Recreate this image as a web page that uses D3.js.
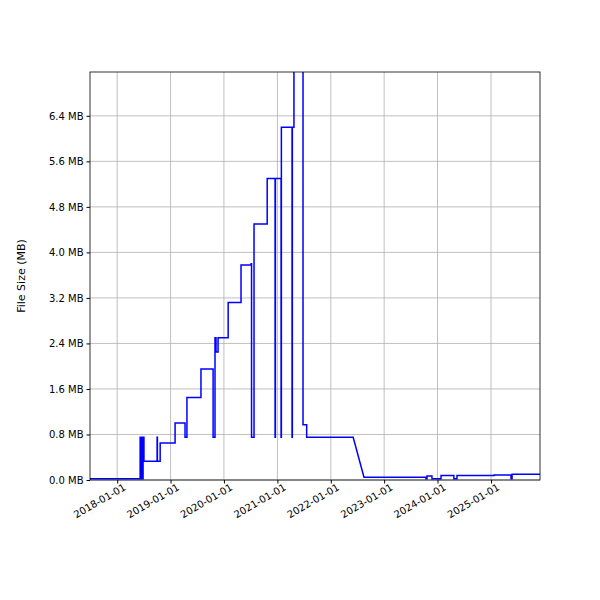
<!DOCTYPE html><html><head><script src="https://cdn.jsdelivr.net/npm/d3@7"></script>
<style>body{margin:0;background:#fff}text{font-family:"DejaVu Sans",sans-serif}</style></head><body><svg id="c" width="600" height="600"></svg>
<script>
const dates=["2017-06-29","2018-06-07","2018-06-07","2018-06-12","2018-06-12","2018-06-17","2018-06-17","2018-06-22","2018-06-22","2018-06-27","2018-06-27","2018-07-03","2018-07-03","2018-07-17","2018-07-17","2018-10-01","2018-10-01","2018-10-03","2018-10-03","2018-10-22","2018-10-22","2019-02-01","2019-02-01","2019-04-10","2019-04-10","2019-04-23","2019-04-23","2019-07-28","2019-07-28","2019-10-19","2019-10-19","2019-11-01","2019-11-01","2019-11-08","2019-11-08","2019-11-22","2019-11-22","2020-01-30","2020-01-30","2020-04-27","2020-04-27","2020-07-05","2020-07-05","2020-07-08","2020-07-08","2020-07-25","2020-07-25","2020-07-25","2020-10-23","2020-10-23","2020-12-16","2020-12-16","2020-12-18","2020-12-18","2021-01-26","2021-01-26","2021-01-28","2021-01-28","2021-04-11","2021-04-11","2021-04-13","2021-04-13","2021-04-24","2021-04-24","2021-06-25","2021-06-25","2021-07-20","2021-07-20","2021-07-22","2022-06-03","2022-08-16","2023-10-14","2023-10-14","2023-10-21","2023-10-21","2023-11-24","2023-11-24","2023-12-01","2023-12-01","2024-01-25","2024-01-25","2024-04-22","2024-04-22","2024-05-13","2024-05-13","2025-01-22","2025-01-22","2025-05-18","2025-05-18","2025-05-25","2025-05-25","2025-12-10"];
const values=[0.02,0.02,0.75,0.75,0.02,0.02,0.75,0.75,0.02,0.02,0.75,0.75,0.33,0.33,0.33,0.33,0.75,0.75,0.33,0.33,0.65,0.65,1.0,1.0,0.75,0.75,1.45,1.45,1.95,1.95,0.75,0.75,2.5,2.5,2.25,2.25,2.5,2.5,3.12,3.12,3.78,3.78,3.8,3.8,0.75,0.75,0.75,4.5,4.5,5.3,5.3,0.75,0.75,5.3,5.3,0.75,0.75,6.2,6.2,0.75,0.75,6.2,6.2,8,8,0.97,0.97,0.75,0.75,0.75,0.05,0.05,0.02,0.02,0.07,0.07,0.02,0.02,0.02,0.02,0.08,0.08,0.02,0.02,0.08,0.08,0.09,0.09,0.02,0.02,0.1,0.1];
const yTicks=[0,0.8,1.6,2.4,3.2,4.0,4.8,5.6,6.4];
const xTicks=["2018-01-01","2019-01-01","2020-01-01","2021-01-01","2022-01-01","2023-01-01","2024-01-01","2025-01-01"];
const p=d3.timeParse("%Y-%m-%d");
const data=dates.map((d,i)=>({d:p(d),v:values[i]}));
const L=90,R=540,T=72,B=480;
const x=d3.scaleTime().domain([p("2017-06-29"),p("2025-12-02")]).range([L,R]);
const y=d3.scaleLinear().domain([0,7.17]).range([B,T]);
const svg=d3.select("#c");
const g=svg.append("g");
g.selectAll(".gx").data(xTicks).enter().append("line").attr("x1",d=>x(p(d))).attr("x2",d=>x(p(d))).attr("y1",T).attr("y2",B).attr("stroke","#b0b0b0").attr("stroke-width",0.8);
g.selectAll(".gy").data(yTicks).enter().append("line").attr("y1",d=>y(d)).attr("y2",d=>y(d)).attr("x1",L).attr("x2",R).attr("stroke","#b0b0b0").attr("stroke-width",0.8);
svg.append("clipPath").attr("id","cp").append("rect").attr("x",L).attr("y",T).attr("width",R-L).attr("height",B-T);
svg.append("path").datum(data).attr("clip-path","url(#cp)").attr("fill","none").attr("stroke","#0000ff").attr("stroke-width",1.5)
 .attr("d",d3.line().x(d=>x(d.d)).y(d=>y(d.v)));
const ax=svg.append("g").attr("transform",`translate(0,${B})`).call(d3.axisBottom(x).tickValues(xTicks.map(p)).tickFormat(d3.timeFormat("%Y-%m-%d")).tickSizeOuter(0).tickSize(3.5));
ax.selectAll("text").attr("font-size",10).attr("text-anchor","end").attr("dx","0.3em").attr("dy","0.6em").attr("transform","rotate(-30)");
const ay=svg.append("g").attr("transform",`translate(${L},0)`).call(d3.axisLeft(y).tickValues(yTicks).tickFormat(d=>d.toFixed(1)+" MB").tickSizeOuter(0).tickSize(3.5));
ay.selectAll("text").attr("font-size",10).attr("fill","#000");
svg.selectAll(".domain").remove();
svg.append("rect").attr("x",L).attr("y",T).attr("width",R-L).attr("height",B-T).attr("fill","none").attr("stroke","#000").attr("stroke-width",0.8);
svg.append("text").attr("transform",`translate(25,${(T+B)/2}) rotate(-90)`).attr("text-anchor","middle").attr("font-size",11).text("File Size (MB)");
</script></body></html>
